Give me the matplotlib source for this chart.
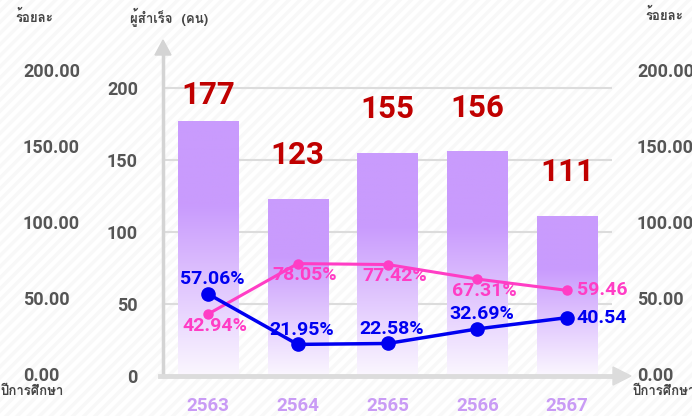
import numpy as np
import matplotlib
matplotlib.use("Agg")
import matplotlib.pyplot as plt
from matplotlib import font_manager
from matplotlib.ft2font import FT2Font
from matplotlib.colors import LinearSegmentedColormap
from matplotlib.patches import Rectangle
import matplotlib.transforms as mtransforms

# ---------------- data ----------------
years = ["2563", "2564", "2565", "2566", "2567"]
graduates = [177, 123, 155, 156, 111]
pct_blue = [57.06, 21.95, 22.58, 32.69, 40.54]
pct_pink = [42.94, 78.05, 77.42, 67.31, 59.46]
count_ticks = [0, 50, 100, 150, 200]
pct_ticks = [0, 50, 100, 150, 200]
label_pct = "ร้อยละ"
label_count = "ผู้สำเร็จ  (คน)"
label_year = "ปีการศึกษา"

# ---------------- fonts ----------------
def find_thai_font():
    seen = set()
    for f in font_manager.fontManager.ttflist:
        if f.name in seen:
            continue
        seen.add(f.name)
        try:
            cm = FT2Font(f.fname).get_charmap()
            if ord("ร") in cm and ord("้") in cm:
                return f.name
        except Exception:
            pass
    return None

thai = find_thai_font()
num_font = ["Roboto", "DejaVu Sans"]
thai_fams = ([thai] if thai else []) + ["DejaVu Sans"]
plt.rcParams["font.family"] = num_font

# ---------------- figure ----------------
W, H = 692, 416
fig = plt.figure(figsize=(W / 100, H / 100), dpi=100)
fig.patch.set_facecolor("white")

# faint diagonal stripes background
plt.rcParams["hatch.linewidth"] = 2.5
bg = Rectangle((0, 0), 1, 1, transform=fig.transFigure, facecolor="white",
               edgecolor="#f8f8f8", hatch="///", linewidth=0, zorder=-10)
fig.patches.append(bg)

ax_left, ax_right = 163, 612
ax_top, ax_bot = 55, 376
ax = fig.add_axes([ax_left / W, (H - ax_bot) / H, (ax_right - ax_left) / W, (ax_bot - ax_top) / H])
ax.set_facecolor("none")
px_per_unit = 1.44
ax.set_ylim(0, (ax_bot - ax_top) / px_per_unit)
ax.set_xlim(-0.5, 4.5)

x = np.arange(len(years))

# gridlines
for t in count_ticks[1:]:
    ax.axhline(t, color="#dcdcdc", lw=1.5, zorder=0)

# bars with gradient
bar_w = 0.67
top_c = "#c99bfd"
bot_c = "#fbf7ff"
cmap = LinearSegmentedColormap.from_list("g", [(0, bot_c), (0.67, top_c), (1, top_c)])
grad = np.linspace(0, 1, 256).reshape(-1, 1)
bars = ax.bar(x, graduates, width=bar_w, color="none", edgecolor="none", zorder=1)
for b in bars:
    im = ax.imshow(grad, extent=[b.get_x(), b.get_x() + b.get_width(), 0, b.get_height()],
                   origin="lower", aspect="auto", cmap=cmap, zorder=1)
    im.set_clip_path(b)
ax.set_xlim(-0.5, 4.5)
ax.set_ylim(0, (ax_bot - ax_top) / px_per_unit)

# bar value labels
for xi, v in zip(x, graduates):
    ax.text(xi, min(v + 20, 185), str(v), ha="center", va="bottom",
            fontsize=22.5, fontweight="bold", color="#c00000", zorder=5)

# lines
blue = "#0000f0"
pink = "#ff3dc5"
ax.plot(x, pct_pink, color=pink, lw=2.2, marker="o", ms=6.5, zorder=3)
ax.plot(x, pct_blue, color=blue, lw=2.5, marker="o", ms=9.5, zorder=4)

fs_pct = 14
n = len(years)
for i in range(n):
    if i < n - 1:
        ax.annotate(f"{pct_blue[i]:.2f}%", (x[i], pct_blue[i]), xytext=(3, 4),
                    textcoords="offset points", ha="center", va="bottom",
                    fontsize=fs_pct, fontweight="bold", color=blue, zorder=6)
        ax.annotate(f"{pct_pink[i]:.2f}%", (x[i], pct_pink[i]), xytext=(5, -2),
                    textcoords="offset points", ha="center", va="top",
                    fontsize=fs_pct, fontweight="bold", color=pink, zorder=6)
    else:
        ax.annotate(f"{pct_blue[i]:.2f}", (x[i], pct_blue[i]), xytext=(7, 0),
                    textcoords="offset points", ha="left", va="center",
                    fontsize=fs_pct, fontweight="bold", color=blue, zorder=6)
        ax.annotate(f"{pct_pink[i]:.2f}", (x[i], pct_pink[i]), xytext=(7, 0),
                    textcoords="offset points", ha="left", va="center",
                    fontsize=fs_pct, fontweight="bold", color=pink, zorder=6)

# axes styling
for s in ["top", "right", "left", "bottom"]:
    ax.spines[s].set_visible(False)
ax.set_yticks(count_ticks)
ax.set_yticklabels([str(t) for t in count_ticks])
ax.set_xticks(x)
ax.set_xticklabels(years)
ax.tick_params(axis="y", length=0, pad=18, labelsize=13, labelcolor="#555555")
ax.tick_params(axis="x", length=0, pad=15, labelsize=13.5, labelcolor="#c99bf5")
for lab in ax.get_yticklabels():
    lab.set_fontweight("bold")
for lab in ax.get_xticklabels():
    lab.set_fontweight("bold")

# axis lines with arrows (figure pixel coordinates)
def fx(px):
    return px / W
def fy(py):
    return (H - py) / H

fig.add_artist(plt.Line2D([fx(163), fx(163)], [fy(376), fy(54)], color="#d4d4d4", lw=2.5, zorder=2))
fig.add_artist(plt.Polygon([[fx(155), fy(55)], [fx(171), fy(55)], [fx(163), fy(40)]],
                           closed=True, color="#d4d4d4", transform=fig.transFigure))
fig.add_artist(plt.Line2D([fx(160), fx(615)], [fy(376), fy(376)], color="#dcdcdc", lw=3.5, zorder=2))
fig.add_artist(plt.Polygon([[fx(613), fy(367)], [fx(613), fy(385)], [fx(631), fy(376)]],
                           closed=True, color="#dcdcdc", transform=fig.transFigure))

# percentage axes (decorative, different scale)
ax2 = ax.twinx()
ax2.set_ylim(0, (ax_bot - ax_top) / 1.52)
ax2.axis("off")
trL = mtransforms.blended_transform_factory(fig.transFigure, ax2.transData)
for t in pct_ticks:
    fig.text(fx(23), t, f"{t:.2f}", transform=trL, ha="left", va="center",
             fontsize=13, fontweight="bold", color="#555555")
    fig.text(fx(637), t, f"{t:.2f}", transform=trL, ha="left", va="center",
             fontsize=13, fontweight="bold", color="#555555")

# titles
for px, py, s in [(15, 17, label_pct), (130, 17, label_count), (645, 15, label_pct),
                  (0, 392, label_year), (632, 392, label_year)]:
    fig.text(fx(px), fy(py), s, ha="left", va="center", fontsize=9.5,
             fontweight="bold", color="#444444", family=thai_fams)

fig.savefig("out.png", dpi=100, facecolor="white")
